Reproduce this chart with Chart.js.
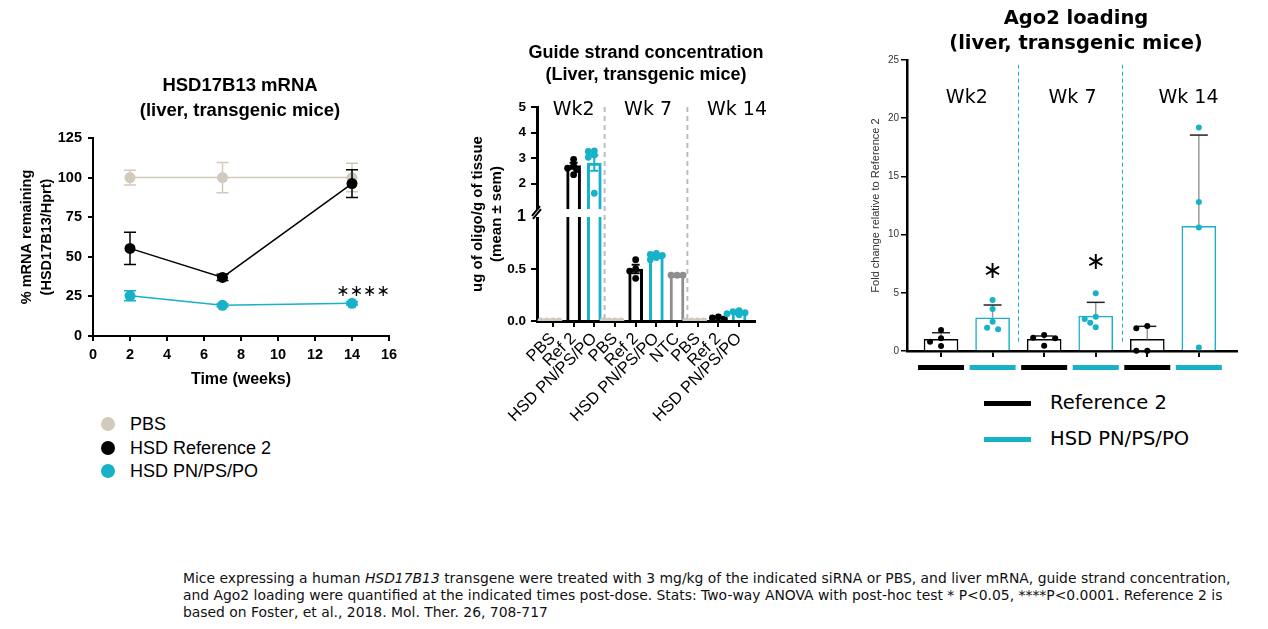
<!DOCTYPE html>
<html>
<head>
<meta charset="utf-8">
<title>HSD17B13 siRNA</title>
<script src="https://cdn.jsdelivr.net/npm/chart.js@4.4.1/dist/chart.umd.min.js"></script>
<style>
  html, body { margin: 0; padding: 0; background: #fff; overflow: hidden; }
  body { position: relative; width: 1268px; height: 629px; font-family: "Liberation Sans", Arial, sans-serif; color: #000; }
  .abs { position: absolute; }
  canvas { display: block; }
  .lg-item { position: absolute; left: 0; height: 24px; line-height: 24px; white-space: nowrap; }
  .lg-dot { position: absolute; width: 14px; height: 14px; border-radius: 50%; left: -29px; top: 5px; }
  .lg-line { position: absolute; width: 47px; height: 5px; left: -66px; top: 10px; }
  #caption { left: 183px; top: 570px; font-family: "DejaVu Sans", Verdana, sans-serif; font-size: 13.9px; line-height: 17px; white-space: nowrap; color: #111; }
</style>
</head>
<body>
<div class="abs" style="left:0;top:0"><canvas id="mrnaChart" width="480" height="400"></canvas></div>
<div class="abs" style="left:440px;top:0"><canvas id="guideChart" width="412" height="440"></canvas></div>
<div class="abs" style="left:866px;top:0"><canvas id="ago2Chart" width="420" height="380"></canvas></div>

<div class="abs" style="left:130px;top:412px;font-size:18px">
  <div class="lg-item" style="top:0"><span class="lg-dot" style="background:#d2cabc"></span>PBS</div>
  <div class="lg-item" style="top:23.5px"><span class="lg-dot" style="background:#000"></span>HSD Reference 2</div>
  <div class="lg-item" style="top:47px"><span class="lg-dot" style="background:#17b1c8"></span>HSD PN/PS/PO</div>
</div>

<div class="abs" style="left:1050px;top:391px;font-family:'DejaVu Sans',sans-serif;font-size:19.5px">
  <div class="lg-item" style="top:0"><span class="lg-line" style="background:#000"></span>Reference 2</div>
  <div class="lg-item" style="top:36px"><span class="lg-line" style="background:#17b1c8"></span>HSD PN/PS/PO</div>
</div>

<div id="caption" class="abs">Mice expressing a human <i>HSD17B13</i> transgene were treated with 3 mg/kg of the indicated siRNA or PBS, and liver mRNA, guide strand concentration,<br>and Ago2 loading were quantified at the indicated times post-dose. Stats: Two-way ANOVA with post-hoc test * P&lt;0.05, ****P&lt;0.0001. Reference 2 is<br>based on Foster, et al., 2018. Mol. Ther. 26, 708-717</div>

<script>
// ---------- data ----------
// HSD17B13 mRNA (% remaining), mean and error
const mrnaWeeks = [2, 7, 14];
const mrnaPbs = [100, 100, 100];
const mrnaPbsErr = [4.7, 9.5, 9];
const mrnaRef = [55.3, 37, 96.2];
const mrnaRefErr = [10.2, 2, 8.8];
const mrnaHsd = [25.4, 19.4, 20.6];
const mrnaHsdErr = [3.2, 1, 1];
const mrnaXTicks = [0, 2, 4, 6, 8, 10, 12, 14, 16];
const mrnaYTicks = [0, 25, 50, 75, 100, 125];

// guide strand concentration (ug oligo / g tissue)
const guideLabels = ['PBS', 'Ref 2', 'HSD PN/PS/PO', 'PBS', 'Ref 2', 'HSD PN/PS/PO', 'NTC', 'PBS', 'Ref 2', 'HSD PN/PS/PO'];
const guideMeans = [0, 2.7, 2.8, 0, 0.5, 0.62, 0.44, 0, 0.03, 0.08];
const guideSem = [0, 0.12, 0.3, 0, 0.04, 0.015, 0.005, 0, 0.006, 0.008];
const guidePoints = [
  [0, 0, 0, 0],
  [2.95, 2.7, 2.6, 2.55, 2.35],
  [3.28, 3.26, 3.12, 3.03, 1.62],
  [0, 0, 0, 0],
  [0.59, 0.5, 0.48, 0.41],
  [0.65, 0.64, 0.63, 0.61, 0.59],
  [0.44, 0.44, 0.44],
  [0, 0, 0, 0],
  [0.04, 0.03, 0.02],
  [0.1, 0.09, 0.08, 0.07, 0.06]
];
const guideYTicks = [0, 0.5, 1, 2, 3, 4, 5];
const guideWeeks = ['Wk2', 'Wk 7', 'Wk 14'];

// Ago2 loading (fold change relative to Reference 2)
const agoGroups = ['Reference 2', 'HSD PN/PS/PO', 'Reference 2', 'HSD PN/PS/PO', 'Reference 2', 'HSD PN/PS/PO'];
const agoMeans = [1.0, 2.85, 1.0, 3.0, 1.0, 10.7];
const agoSd = [0.57, 1.1, 0.29, 1.18, 1.12, 7.85];
const agoPoints = [
  [1.8, 1.09, 0.8, 0.43],
  [4.38, 3.61, 2.52, 2.0, 1.86],
  [1.37, 1.14, 1.09, 0.46],
  [4.96, 2.95, 2.75, 2.43, 2.04],
  [2.15, 1.95, 0.03, 0.03],
  [19.2, 12.8, 10.6, 0.3]
];
const agoYTicks = [0, 5, 10, 15, 20, 25];
const agoWeeks = ['Wk2', 'Wk 7', 'Wk 14'];

// ---------- styles ----------
const CYAN = '#17b1c8';
const BEIGE = '#d2cabc';
const GRAY = '#8e8e8e';
const ARIAL = '"Liberation Sans", Arial, sans-serif';
const VERDANA = '"DejaVu Sans", Verdana, sans-serif';

function colorFor(label) {
  if (label === 'PBS') return BEIGE;
  if (label === 'NTC') return GRAY;
  if (label.startsWith('HSD')) return CYAN;
  return '#000';
}

Chart.defaults.font.family = ARIAL;
Chart.defaults.color = '#000';
Chart.defaults.animation = false;
Chart.defaults.events = [];
Chart.defaults.plugins.legend.display = false;
Chart.defaults.plugins.tooltip.enabled = false;

const setTicks = arr => scale => { scale.ticks = arr.map(v => ({ value: v })); };
const padAxis = w => ({ axis: 'y', position: 'right', display: true, grid: { display: false }, border: { display: false }, ticks: { display: false }, afterFit: s => { s.width = w; } });

// y scale with a break: 0..1 in the lower part, 1..max above a small gap
const BREAK_AT = 1;
const LOW_FRAC = 0.486;
const HIGH_FRAC = 0.523;
class BrokenScale extends Chart.LinearScale {
  getPixelForValue(value) {
    const h = this.bottom - this.top;
    let f;
    if (value <= BREAK_AT) f = (value - this.min) / (BREAK_AT - this.min) * LOW_FRAC;
    else f = HIGH_FRAC + (value - BREAK_AT) / (this.max - BREAK_AT) * (1 - HIGH_FRAC);
    return this.bottom - f * h;
  }
  getValueForPixel(pixel) {
    const f = (this.bottom - pixel) / (this.bottom - this.top);
    if (f <= LOW_FRAC) return this.min + f / LOW_FRAC * (BREAK_AT - this.min);
    return BREAK_AT + (f - HIGH_FRAC) / (1 - HIGH_FRAC) * (this.max - BREAK_AT);
  }
  gapPixels() {
    const h = this.bottom - this.top;
    return [this.bottom - HIGH_FRAC * h, this.bottom - LOW_FRAC * h];
  }
}
BrokenScale.id = 'broken';
Chart.register(BrokenScale);

// error bars read from dataset.errors
const errorBars = {
  id: 'errorBars',
  draw(chart, meta, ds) {
    if (!ds.errors) return;
    const ctx = chart.ctx;
    const y = chart.scales[meta.yAxisID];
    ctx.save();
    meta.data.forEach((el, j) => {
      const v = ds.data[j].y, e = ds.errors[j];
      if (!e) return;
      const col = Array.isArray(ds.errorColor) ? ds.errorColor[j] : ds.errorColor;
      const cap = Array.isArray(ds.capColor) ? ds.capColor[j] : (ds.capColor || col);
      const yHi = y.getPixelForValue(v + e);
      const yLo = ds.errorUpOnly ? y.getPixelForValue(v) : y.getPixelForValue(v - e);
      const w = ds.capWidth / 2;
      ctx.lineWidth = ds.errorWidth;
      ctx.strokeStyle = col;
      ctx.beginPath(); ctx.moveTo(el.x, yHi); ctx.lineTo(el.x, yLo); ctx.stroke();
      ctx.strokeStyle = cap;
      ctx.beginPath();
      ctx.moveTo(el.x - w, yHi); ctx.lineTo(el.x + w, yHi);
      if (!ds.errorUpOnly) { ctx.moveTo(el.x - w, yLo); ctx.lineTo(el.x + w, yLo); }
      ctx.stroke();
    });
    ctx.restore();
  },
  beforeDatasetDraw(chart, args) {
    if (args.meta.type === 'line') this.draw(chart, args.meta, chart.data.datasets[args.index]);
  },
  afterDatasetDraw(chart, args) {
    if (args.meta.type === 'bar') this.draw(chart, args.meta, chart.data.datasets[args.index]);
  }
};

// spread overlapping scatter dots sideways (simple beeswarm in pixel space)
const swarm = {
  id: 'swarm',
  afterDatasetsUpdate(chart, args, opts) {
    chart.data.datasets.forEach((ds, di) => {
      if (ds.type !== 'scatter') return;
      const meta = chart.getDatasetMeta(di);
      const groups = {};
      meta.data.forEach((pt, j) => {
        const k = ds.data[j].x;
        (groups[k] = groups[k] || []).push(pt);
      });
      Object.values(groups).forEach(pts => {
        const placed = [];
        pts.slice().sort((a, b) => a.y - b.y).forEach(pt => {
          const cx = pt.x;
          for (let k = 0; k < 15; k++) {
            const off = Math.ceil(k / 2) * opts.step * (k % 2 ? -1 : 1);
            if (placed.every(q => Math.hypot(q.x - (cx + off), q.y - pt.y) >= opts.minDist)) {
              pt.x = cx + off;
              break;
            }
          }
          placed.push({ x: pt.x, y: pt.y });
        });
      });
    });
  }
};

// ---------- chart 1: HSD17B13 mRNA ----------
const lineSet = (label, vals, errs, color, order) => ({
  label, order,
  data: mrnaWeeks.map((w, i) => ({ x: w, y: vals[i] })),
  errors: errs, errorColor: color, capWidth: 12, errorWidth: 1.5,
  borderColor: color, backgroundColor: color, borderWidth: 1.5,
  pointRadius: 5.5, pointBorderWidth: 0, pointBackgroundColor: color
});

const mrnaStars = {
  id: 'mrnaStars',
  afterDatasetsDraw(chart) {
    const { ctx, scales: { x, y } } = chart;
    ctx.save();
    ctx.font = '16px ' + VERDANA;
    ctx.fillStyle = '#000';
    ctx.textAlign = 'center';
    ctx.textBaseline = 'middle';
    ctx.fillText('\u2217\u2217\u2217\u2217', x.getPixelForValue(14.6), y.getPixelForValue(28));
    ctx.restore();
  }
};

new Chart(document.getElementById('mrnaChart'), {
  type: 'line',
  data: {
    datasets: [
      lineSet('PBS', mrnaPbs, mrnaPbsErr, BEIGE, 3),
      lineSet('HSD Reference 2', mrnaRef, mrnaRefErr, '#000', 2),
      lineSet('HSD PN/PS/PO', mrnaHsd, mrnaHsdErr, CYAN, 1)
    ]
  },
  options: {
    responsive: false,
    layout: { padding: 0 },
    plugins: {
      title: {
        display: true, text: ['HSD17B13 mRNA', '(liver, transgenic mice)'], color: '#000',
        font: { size: 18.5, weight: 'bold', lineHeight: 25 / 18.5 }, padding: { top: 73.5, bottom: 14.5 }
      }
    },
    scales: {
      x: {
        type: 'linear', min: 0, max: 16, bounds: 'data',
        afterBuildTicks: setTicks(mrnaXTicks),
        afterFit: s => { s.height = 64; },
        border: { color: '#000', width: 2 },
        grid: { drawOnChartArea: false, color: '#000', lineWidth: 2, tickLength: 5 },
        ticks: { font: { size: 14.5, weight: 'bold' }, padding: 5, color: '#000', maxRotation: 0 },
        title: { display: true, text: 'Time (weeks)', color: '#000', font: { size: 16, weight: 'bold' }, padding: { top: 0, bottom: 10.4 } }
      },
      y: {
        type: 'linear', min: 0, max: 125, bounds: 'data',
        afterBuildTicks: setTicks(mrnaYTicks),
        afterFit: s => { s.width = 93; },
        border: { color: '#000', width: 2 },
        grid: { drawOnChartArea: false, color: '#000', lineWidth: 2, tickLength: 5 },
        ticks: { font: { size: 14.5, weight: 'bold' }, padding: 6, color: '#000' },
        title: { display: true, text: ['% mRNA remaining', '(HSD17B13/Hprt)'], color: '#000', font: { size: 14.5, weight: 'bold', lineHeight: 1.38 }, padding: { top: 17, bottom: 0 } }
      },
      yPad: padAxis(91)
    }
  },
  plugins: [errorBars, mrnaStars]
});

// ---------- chart 2: guide strand concentration ----------
const guideColors = guideLabels.map(colorFor);
const guideDots = guidePoints.flatMap((pts, i) => pts.map(v => ({ x: i, y: v })));
const guideDotColors = guidePoints.flatMap((pts, i) => pts.map(() => guideColors[i]));

const guideMarks = {
  id: 'guideMarks',
  afterDatasetsDraw(chart) {
    const { ctx, chartArea: a, scales: { x, y } } = chart;
    const [g0, g1] = y.gapPixels();
    ctx.save();
    // axis break
    ctx.fillStyle = '#fff';
    ctx.fillRect(a.left - 3, g0, a.right - a.left + 3, g1 - g0);
    ctx.strokeStyle = '#000';
    ctx.lineWidth = 2;
    ctx.beginPath();
    ctx.moveTo(a.left - 5, g1 - 1); ctx.lineTo(a.left + 3, g0 - 3);
    ctx.moveTo(a.left - 4, g1 + 2); ctx.lineTo(a.left + 4, g0);
    ctx.stroke();
    // week separators
    ctx.strokeStyle = '#bdbdbd';
    ctx.lineWidth = 2;
    ctx.setLineDash([5, 4]);
    [2.5, 6.5].forEach(v => {
      const px = x.getPixelForValue(v);
      ctx.beginPath(); ctx.moveTo(px, a.top); ctx.lineTo(px, a.bottom); ctx.stroke();
    });
    ctx.setLineDash([]);
    // week labels
    ctx.font = '19px ' + VERDANA;
    ctx.fillStyle = '#000';
    ctx.textAlign = 'center';
    ctx.textBaseline = 'middle';
    [1, 4.6, 8.9].forEach((v, i) => ctx.fillText(guideWeeks[i], x.getPixelForValue(v), y.getPixelForValue(4.88)));
    ctx.restore();
  }
};

new Chart(document.getElementById('guideChart'), {
  type: 'bar',
  data: {
    datasets: [
      {
        type: 'scatter', order: 1,
        data: guideDots,
        pointRadius: 3.4, pointBorderWidth: 0,
        pointBackgroundColor: guideDotColors, backgroundColor: guideDotColors,
        clip: { left: 0, top: 0, right: 0, bottom: 0 }
      },
      {
        type: 'bar', order: 2,
        data: guideMeans.map((v, i) => ({ x: i, y: v })),
        errors: guideSem, errorColor: guideColors, capWidth: 8, errorWidth: 2,
        backgroundColor: '#fff', borderColor: guideColors, borderWidth: 3,
        barThickness: 14, grouped: false
      }
    ]
  },
  options: {
    responsive: false,
    layout: { padding: 0 },
    plugins: {
      title: {
        display: true, text: ['Guide strand concentration', '(Liver, transgenic mice)'], color: '#000',
        font: { size: 18, weight: 'bold', lineHeight: 22 / 18 }, padding: { top: 42, bottom: 21 }
      },
      swarm: { step: 3, minDist: 4 }
    },
    scales: {
      x: {
        type: 'linear', min: -0.77, max: 9.77, bounds: 'data', offset: false,
        afterBuildTicks: setTicks(guideLabels.map((_, i) => i)),
        afterFit: s => { s.height = 119; },
        border: { color: '#000', width: 3 },
        grid: { offset: false, drawOnChartArea: false, color: '#000', lineWidth: 2, tickLength: 6 },
        ticks: {
          callback: (v, i) => guideLabels[i], autoSkip: false,
          minRotation: 45, maxRotation: 45, font: { size: 16.5 }, padding: 2, color: '#000'
        }
      },
      y: {
        type: 'broken', min: 0, max: 5, bounds: 'data',
        afterBuildTicks: setTicks(guideYTicks),
        afterFit: s => { s.width = 97; },
        border: { color: '#000', width: 3 },
        grid: { drawOnChartArea: false, lineWidth: 2, tickLength: 6, tickColor: c => (c.tick && c.tick.value === BREAK_AT ? 'rgba(0,0,0,0)' : '#000') },
        ticks: {
          callback: v => (v < BREAK_AT ? v.toFixed(1) : String(v)), autoSkip: false,
          font: c => ({ size: c.tick && c.tick.value === BREAK_AT ? 16 : 13.5, weight: 'bold' }), padding: 5, color: '#000'
        },
        title: {
          display: true, text: ['ug of oligo/g of tissue', '(mean \u00b1 sem)'], color: '#000',
          font: { size: 15, weight: 'bold', lineHeight: 1.3 }, padding: { top: 28, bottom: 0 }
        }
      },
      yPad: padAxis(97)
    }
  },
  plugins: [errorBars, swarm, guideMarks]
});

// ---------- chart 3: Ago2 loading ----------
const agoColors = agoGroups.map(colorFor);
const agoDots = agoPoints.flatMap((pts, i) => pts.map(v => ({ x: i, y: v })));
const agoDotColors = agoPoints.flatMap((pts, i) => pts.map(() => agoColors[i]));

const agoMarks = {
  id: 'agoMarks',
  afterDatasetsDraw(chart) {
    const { ctx, chartArea: a, scales: { x, y } } = chart;
    ctx.save();
    // week separators
    ctx.strokeStyle = CYAN;
    ctx.lineWidth = 1;
    ctx.setLineDash([4, 3]);
    [1.5, 3.5].forEach(v => {
      const px = Math.round(x.getPixelForValue(v)) + 0.5;
      ctx.beginPath(); ctx.moveTo(px, y.getPixelForValue(24.6)); ctx.lineTo(px, y.getPixelForValue(0.8)); ctx.stroke();
    });
    ctx.setLineDash([]);
    // week labels
    ctx.font = '19px ' + VERDANA;
    ctx.fillStyle = '#000';
    ctx.textAlign = 'center';
    ctx.textBaseline = 'middle';
    [0.5, 2.55, 4.8].forEach((v, i) => ctx.fillText(agoWeeks[i], x.getPixelForValue(v), y.getPixelForValue(21.7)));
    // significance
    ctx.font = '24px ' + VERDANA;
    [[1, 6.8], [3, 7.6]].forEach(([i, v]) => ctx.fillText('\u2217', x.getPixelForValue(i), y.getPixelForValue(v)));
    // colour keys under the axis
    agoGroups.forEach((g, i) => {
      ctx.fillStyle = colorFor(g);
      ctx.fillRect(x.getPixelForValue(i) - 23, a.bottom + 14, 46, 5);
    });
    ctx.restore();
  }
};

new Chart(document.getElementById('ago2Chart'), {
  type: 'bar',
  data: {
    datasets: [
      {
        type: 'scatter', order: 1,
        data: agoDots,
        pointRadius: 3, pointBorderWidth: 0,
        pointBackgroundColor: agoDotColors, backgroundColor: agoDotColors,
        clip: false
      },
      {
        type: 'bar', order: 2,
        data: agoMeans.map((v, i) => ({ x: i, y: v })),
        errors: agoSd, errorUpOnly: true, errorColor: '#999', capColor: '#222', capWidth: 18, errorWidth: 1.5,
        backgroundColor: '#fff', borderColor: agoColors, borderWidth: 1.5,
        barThickness: 34, grouped: false
      }
    ]
  },
  options: {
    responsive: false,
    layout: { padding: 0 },
    plugins: {
      title: {
        display: true, text: ['Ago2 loading', '(liver, transgenic mice)'], color: '#000',
        font: { family: VERDANA, size: 19.5, weight: 'bold', lineHeight: 25 / 19.5 }, padding: { top: 6.5, bottom: 3.5 }
      },
      swarm: { step: 5.5, minDist: 6.5 }
    },
    scales: {
      x: {
        type: 'linear', min: -0.66, max: 5.74, bounds: 'data', offset: false,
        afterBuildTicks: setTicks(agoGroups.map((_, i) => i)),
        afterFit: s => { s.height = 29; },
        border: { color: '#000', width: 2.5 },
        grid: { offset: false, drawOnChartArea: false, color: '#000', lineWidth: 2, tickLength: 6 },
        ticks: { display: false }
      },
      y: {
        type: 'linear', min: 0, max: 25, bounds: 'data',
        afterBuildTicks: setTicks(agoYTicks),
        afterFit: s => { s.width = 41; },
        border: { color: '#000', width: 2.5 },
        grid: { drawOnChartArea: false, color: '#000', lineWidth: 1.5, tickLength: 6 },
        ticks: { font: { size: 10 }, padding: 2, color: '#333' },
        title: {
          display: true, text: 'Fold change relative to Reference 2', color: '#333',
          font: { size: 11, lineHeight: 1.2 }, padding: { top: 3.4, bottom: 0 }
        }
      },
      yPad: padAxis(49)
    }
  },
  plugins: [errorBars, swarm, agoMarks]
});
</script>
</body>
</html>
